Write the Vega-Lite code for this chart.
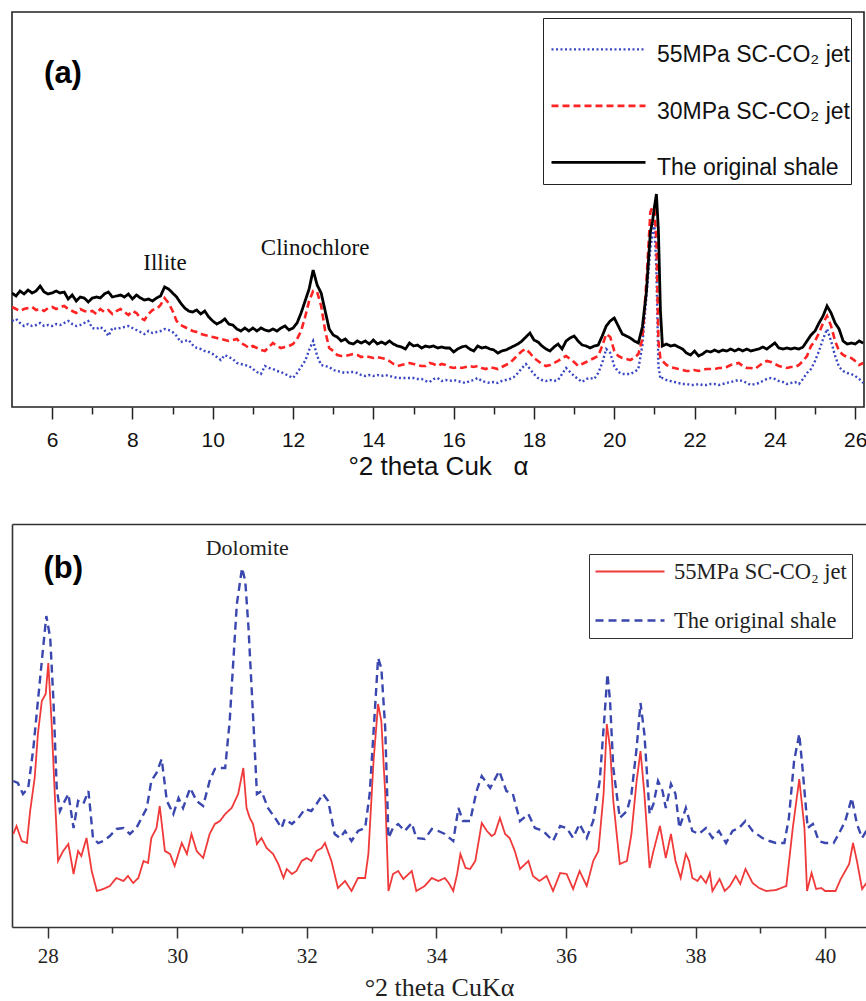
{
"$schema": "https://vega.github.io/schema/vega-lite/v6.json",
"padding": {"left": 11, "top": 11, "right": 0, "bottom": 0},
"background": "white",
"spacing": 44,
"config": {"axis": {"grid": false}, "font": "Liberation Sans"},
"resolve": {"scale": {"color": "independent", "strokeDash": "independent", "strokeWidth": "independent"}, "legend": {"color": "independent", "strokeDash": "independent", "strokeWidth": "independent"}},
"vconcat": [
{
"width": 852, "height": 395,
"view": {"stroke": "#222", "strokeWidth": 1.6},
"layer": [
{
"data": {"values": [
{"x":5.0,"a":86,"b":100,"c":114},{"x":5.1,"a":88,"b":98,"c":111},{"x":5.2,"a":84,"b":96,"c":116},{"x":5.3,"a":81,"b":98,"c":113},{"x":5.4,"a":83,"b":99,"c":117},{"x":5.5,"a":81,"b":100,"c":114},{"x":5.6,"a":82,"b":97,"c":116},{"x":5.7,"a":84,"b":98,"c":121},{"x":5.8,"a":81,"b":96,"c":115},{"x":5.9,"a":82,"b":99,"c":113},
{"x":6.0,"a":81,"b":100,"c":114},{"x":6.1,"a":83,"b":98,"c":116},{"x":6.2,"a":82,"b":100,"c":114},{"x":6.3,"a":84,"b":101,"c":115},{"x":6.4,"a":86,"b":98,"c":108},{"x":6.5,"a":83,"b":96,"c":112},{"x":6.6,"a":81,"b":94,"c":106},{"x":6.7,"a":82,"b":98,"c":110},{"x":6.8,"a":84,"b":96,"c":109},{"x":6.9,"a":86,"b":95,"c":105},
{"x":7.0,"a":79,"b":96,"c":109},{"x":7.1,"a":78,"b":93,"c":110},{"x":7.2,"a":80,"b":98,"c":109},{"x":7.3,"a":77,"b":95,"c":113},{"x":7.4,"a":71,"b":97,"c":115},{"x":7.5,"a":79,"b":93,"c":110},{"x":7.6,"a":78,"b":96,"c":111},{"x":7.7,"a":79,"b":98,"c":112},{"x":7.8,"a":80,"b":95,"c":110},{"x":7.9,"a":81,"b":92,"c":113},
{"x":8.0,"a":79,"b":96,"c":108},{"x":8.1,"a":77,"b":94,"c":112},{"x":8.2,"a":75,"b":89,"c":109},{"x":8.3,"a":73,"b":87,"c":107},{"x":8.4,"a":76,"b":93,"c":108},{"x":8.5,"a":74,"b":97,"c":106},{"x":8.6,"a":75,"b":98,"c":109},{"x":8.7,"a":76,"b":102,"c":111},{"x":8.8,"a":78,"b":109,"c":120},{"x":8.9,"a":77,"b":104,"c":118},
{"x":9.0,"a":75,"b":96,"c":114},{"x":9.1,"a":71,"b":86,"c":110},{"x":9.2,"a":65,"b":82,"c":104},{"x":9.3,"a":66,"b":80,"c":99},{"x":9.4,"a":67,"b":78,"c":96},{"x":9.5,"a":62,"b":76,"c":95},{"x":9.6,"a":59,"b":75,"c":97},{"x":9.7,"a":58,"b":73,"c":93},{"x":9.8,"a":56,"b":72,"c":96},{"x":9.9,"a":55,"b":71,"c":90},
{"x":10.0,"a":53,"b":70,"c":86},{"x":10.1,"a":50,"b":69,"c":83},{"x":10.2,"a":47,"b":68,"c":85},{"x":10.3,"a":52,"b":67,"c":88},{"x":10.4,"a":50,"b":66,"c":83},{"x":10.5,"a":48,"b":67,"c":82},{"x":10.6,"a":44,"b":68,"c":78},{"x":10.7,"a":43,"b":64,"c":76},{"x":10.8,"a":42,"b":62,"c":79},{"x":10.9,"a":41,"b":59,"c":76},
{"x":11.0,"a":38,"b":61,"c":79},{"x":11.1,"a":35,"b":59,"c":76},{"x":11.2,"a":33,"b":57,"c":79},{"x":11.3,"a":41,"b":56,"c":77},{"x":11.4,"a":39,"b":60,"c":76},{"x":11.5,"a":38,"b":64,"c":78},{"x":11.6,"a":36,"b":61,"c":76},{"x":11.7,"a":35,"b":59,"c":79},{"x":11.8,"a":33,"b":60,"c":81},{"x":11.9,"a":31,"b":61,"c":77},
{"x":12.0,"a":29,"b":63,"c":79},{"x":12.1,"a":34,"b":68,"c":84},{"x":12.2,"a":40,"b":76,"c":94},{"x":12.3,"a":46,"b":90,"c":106},{"x":12.4,"a":57,"b":106,"c":118},{"x":12.5,"a":66,"b":116,"c":137},{"x":12.6,"a":51,"b":115,"c":122},{"x":12.7,"a":42,"b":101,"c":114},{"x":12.8,"a":41,"b":76,"c":96},{"x":12.9,"a":40,"b":59,"c":78},
{"x":13.0,"a":37,"b":56,"c":72},{"x":13.1,"a":36,"b":52,"c":70},{"x":13.2,"a":35,"b":51,"c":66},{"x":13.3,"a":34,"b":51,"c":68},{"x":13.4,"a":35,"b":52,"c":64},{"x":13.5,"a":35,"b":53,"c":63},{"x":13.6,"a":34,"b":52,"c":66},{"x":13.7,"a":32,"b":50,"c":64},{"x":13.8,"a":31,"b":51,"c":66},{"x":13.9,"a":32,"b":50,"c":63},
{"x":14.0,"a":31,"b":49,"c":67},{"x":14.1,"a":32,"b":50,"c":63},{"x":14.2,"a":31,"b":49,"c":65},{"x":14.3,"a":32,"b":48,"c":63},{"x":14.4,"a":31,"b":46,"c":66},{"x":14.5,"a":30,"b":43,"c":63},{"x":14.6,"a":29,"b":41,"c":61},{"x":14.7,"a":29,"b":42,"c":60},{"x":14.8,"a":29,"b":43,"c":58},{"x":14.9,"a":29,"b":44,"c":64},
{"x":15.0,"a":29,"b":43,"c":61},{"x":15.1,"a":28,"b":42,"c":62},{"x":15.2,"a":28,"b":41,"c":59},{"x":15.3,"a":26,"b":41,"c":61},{"x":15.4,"a":25,"b":44,"c":60},{"x":15.5,"a":28,"b":43,"c":61},{"x":15.6,"a":29,"b":41,"c":59},{"x":15.7,"a":26,"b":43,"c":60},{"x":15.8,"a":27,"b":42,"c":59},{"x":15.9,"a":26,"b":40,"c":59},
{"x":16.0,"a":27,"b":39,"c":55},{"x":16.1,"a":26,"b":40,"c":58},{"x":16.2,"a":25,"b":39,"c":60},{"x":16.3,"a":24,"b":40,"c":61},{"x":16.4,"a":26,"b":41,"c":58},{"x":16.5,"a":27,"b":40,"c":56},{"x":16.6,"a":29,"b":41,"c":61},{"x":16.7,"a":26,"b":39,"c":59},{"x":16.8,"a":25,"b":38,"c":60},{"x":16.9,"a":24,"b":40,"c":58},
{"x":17.0,"a":25,"b":39,"c":57},{"x":17.1,"a":24,"b":38,"c":54},{"x":17.2,"a":26,"b":40,"c":56},{"x":17.3,"a":27,"b":42,"c":57},{"x":17.4,"a":28,"b":44,"c":59},{"x":17.5,"a":30,"b":48,"c":61},{"x":17.6,"a":34,"b":52,"c":63},{"x":17.7,"a":39,"b":56,"c":66},{"x":17.8,"a":43,"b":58,"c":70},{"x":17.9,"a":38,"b":54,"c":74},
{"x":18.0,"a":33,"b":49,"c":67},{"x":18.1,"a":29,"b":46,"c":65},{"x":18.2,"a":27,"b":43,"c":61},{"x":18.3,"a":26,"b":41,"c":58},{"x":18.4,"a":27,"b":42,"c":56},{"x":18.5,"a":26,"b":44,"c":60},{"x":18.6,"a":27,"b":46,"c":63},{"x":18.7,"a":33,"b":49,"c":58},{"x":18.8,"a":39,"b":51,"c":66},{"x":18.9,"a":35,"b":48,"c":69},
{"x":19.0,"a":31,"b":45,"c":71},{"x":19.1,"a":28,"b":41,"c":66},{"x":19.2,"a":25,"b":43,"c":62},{"x":19.3,"a":28,"b":45,"c":61},{"x":19.4,"a":29,"b":47,"c":59},{"x":19.5,"a":28,"b":49,"c":61},{"x":19.6,"a":34,"b":51,"c":62},{"x":19.7,"a":44,"b":61,"c":71},{"x":19.8,"a":58,"b":73,"c":81},{"x":19.9,"a":54,"b":70,"c":86},
{"x":20.0,"a":41,"b":56,"c":89},{"x":20.1,"a":35,"b":51,"c":81},{"x":20.2,"a":33,"b":49,"c":73},{"x":20.3,"a":33,"b":48,"c":71},{"x":20.4,"a":33,"b":47,"c":69},{"x":20.5,"a":35,"b":49,"c":66},{"x":20.6,"a":38,"b":53,"c":64},{"x":20.7,"a":62,"b":68,"c":80},{"x":20.8,"a":110,"b":125,"c":115},{"x":20.9,"a":159,"b":195,"c":175},
{"x":20.95,"a":172,"b":200,"c":185},{"x":21.0,"a":183,"b":198,"c":200},{"x":21.05,"a":136,"b":166,"c":213},{"x":21.1,"a":41,"b":66,"c":176},{"x":21.15,"a":28,"b":48,"c":96},{"x":21.2,"a":29,"b":46,"c":61},{"x":21.3,"a":27,"b":42,"c":63},{"x":21.4,"a":26,"b":40,"c":61},{"x":21.5,"a":25,"b":39,"c":62},{"x":21.6,"a":24,"b":38,"c":60},
{"x":21.7,"a":23,"b":37,"c":58},{"x":21.8,"a":23,"b":36,"c":54},{"x":21.9,"a":22,"b":36,"c":52},{"x":22.0,"a":22,"b":37,"c":56},{"x":22.1,"a":23,"b":36,"c":51},{"x":22.2,"a":22,"b":37,"c":53},{"x":22.3,"a":22,"b":38,"c":56},{"x":22.4,"a":23,"b":38,"c":55},{"x":22.5,"a":23,"b":38,"c":57},{"x":22.6,"a":22,"b":39,"c":55},
{"x":22.7,"a":23,"b":39,"c":57},{"x":22.8,"a":24,"b":40,"c":56},{"x":22.9,"a":25,"b":42,"c":58},{"x":23.0,"a":26,"b":43,"c":56},{"x":23.1,"a":27,"b":44,"c":58},{"x":23.2,"a":26,"b":41,"c":56},{"x":23.3,"a":24,"b":39,"c":58},{"x":23.4,"a":22,"b":39,"c":56},{"x":23.5,"a":23,"b":38,"c":57},{"x":23.6,"a":24,"b":41,"c":58},
{"x":23.7,"a":26,"b":44,"c":60},{"x":23.8,"a":28,"b":46,"c":58},{"x":23.9,"a":29,"b":45,"c":61},{"x":24.0,"a":28,"b":43,"c":64},{"x":24.1,"a":26,"b":41,"c":59},{"x":24.2,"a":25,"b":40,"c":58},{"x":24.3,"a":23,"b":39,"c":59},{"x":24.4,"a":24,"b":40,"c":58},{"x":24.5,"a":25,"b":40,"c":59},{"x":24.6,"a":23,"b":42,"c":58},
{"x":24.7,"a":28,"b":46,"c":60},{"x":24.8,"a":34,"b":51,"c":66},{"x":24.9,"a":38,"b":61,"c":72},{"x":25.0,"a":46,"b":66,"c":76},{"x":25.1,"a":56,"b":74,"c":84},{"x":25.2,"a":68,"b":84,"c":91},{"x":25.3,"a":78,"b":91,"c":101},{"x":25.4,"a":66,"b":81,"c":94},{"x":25.5,"a":51,"b":66,"c":84},{"x":25.6,"a":40,"b":56,"c":78},
{"x":25.7,"a":36,"b":52,"c":66},{"x":25.8,"a":34,"b":50,"c":63},{"x":25.9,"a":33,"b":49,"c":64},{"x":26.0,"a":31,"b":46,"c":63},{"x":26.1,"a":28,"b":42,"c":66},{"x":26.2,"a":24,"b":44,"c":64}
]},
"transform": [{"fold": ["a", "b", "c"], "as": ["s", "v"]}],
"mark": {"type": "line", "clip": true},
"encoding": {
"x": {"field": "x", "type": "quantitative", "scale": {"domain": [5, 26.22], "nice": false, "zero": false},
"axis": {"values": [6,7,8,9,10,11,12,13,14,15,16,17,18,19,20,21,22,23,24,25,26], "labelExpr": "datum.value % 2 === 0 ? datum.label : ''", "tickSize": {"condition": {"test": "datum.value % 2 !== 0", "value": 7}, "value": 12}, "domain": false, "tickColor": "#222", "tickWidth": 1.5, "labelFont": "Liberation Sans", "labelFontSize": 21, "labelColor": "#111", "labelPadding": 10, "labelFlush": false, "labelOverlap": false, "title": "°2 theta Cuk\u00a0\u00a0\u00a0α", "titleFont": "Liberation Sans", "titleFontSize": 26, "titleFontWeight": "normal", "titleColor": "#111", "titlePadding": 3}},
"y": {"field": "v", "type": "quantitative", "scale": {"domain": [0, 395], "nice": false, "zero": false}, "axis": null},
"color": {"field": "s", "type": "nominal", "scale": {"domain": ["a", "b", "c"], "range": ["#3a47c2", "#ff2323", "#000000"]},
"legend": {"orient": "none", "legendX": 531, "legendY": 6, "title": " ", "titleFontSize": 1, "titlePadding": 20, "strokeColor": "#222", "padding": 1, "symbolOffset": 6, "symbolType": "M-1,-0.12L1,-0.12", "symbolSize": 8836, "symbolStrokeWidth": 2, "clipHeight": 30, "rowPadding": 26.5, "labelFont": "Liberation Sans", "labelFontSize": 23, "labelColor": "#111", "labelOffset": 10, "labelLimit": 400, "labelBaseline": "middle",
"labelExpr": "datum.value === 'a' ? '55MPa SC-CO₂ jet\u00a0' : datum.value === 'b' ? '30MPa SC-CO₂ jet\u00a0' : 'The original shale'"}},
"strokeDash": {"field": "s", "type": "nominal", "scale": {"domain": ["a", "b", "c"], "range": [[2, 2.5], [7, 4], [1, 0]]},
"legend": {"orient": "none", "legendX": 531, "legendY": 6, "title": " ", "titleFontSize": 1, "titlePadding": 20, "strokeColor": "#222", "padding": 1, "symbolOffset": 6, "symbolType": "M-1,-0.12L1,-0.12", "symbolSize": 8836, "symbolStrokeWidth": 2, "clipHeight": 30, "rowPadding": 26.5, "labelFont": "Liberation Sans", "labelFontSize": 23, "labelColor": "#111", "labelOffset": 10, "labelLimit": 400, "labelBaseline": "middle",
"labelExpr": "datum.value === 'a' ? '55MPa SC-CO₂ jet\u00a0' : datum.value === 'b' ? '30MPa SC-CO₂ jet\u00a0' : 'The original shale'"}},
"strokeWidth": {"field": "s", "type": "nominal", "scale": {"domain": ["a", "b", "c"], "range": [2.4, 2.8, 1.6]}, "legend": null}
}
},
{
"data": {"values": [{"x": 8.81, "y": 144, "t": "Illite"}, {"x": 12.55, "y": 159, "t": "Clinochlore"}]},
"mark": {"type": "text", "font": "Liberation Serif", "fontSize": 23, "color": "#111", "baseline": "middle", "align": "center"},
"encoding": {
"x": {"field": "x", "type": "quantitative", "scale": {"domain": [5, 26.22], "nice": false, "zero": false},
"axis": {"values": [6,7,8,9,10,11,12,13,14,15,16,17,18,19,20,21,22,23,24,25,26], "labelExpr": "datum.value % 2 === 0 ? datum.label : ''", "tickSize": {"condition": {"test": "datum.value % 2 !== 0", "value": 7}, "value": 12}, "domain": false, "tickColor": "#222", "tickWidth": 1.5, "labelFont": "Liberation Sans", "labelFontSize": 21, "labelColor": "#111", "labelPadding": 10, "labelFlush": false, "labelOverlap": false, "title": "°2 theta Cuk\u00a0\u00a0\u00a0α", "titleFont": "Liberation Sans", "titleFontSize": 26, "titleFontWeight": "normal", "titleColor": "#111", "titlePadding": 3}},
"y": {"field": "y", "type": "quantitative", "scale": {"domain": [0, 395], "nice": false, "zero": false}, "axis": null},
"text": {"field": "t"}
}
},
{
"data": {"values": [{"x": 6.27, "y": 333, "t": "(a)"}]},
"mark": {"type": "text", "font": "Liberation Sans", "fontWeight": "bold", "fontSize": 31, "color": "#000", "baseline": "middle", "align": "center"},
"encoding": {
"x": {"field": "x", "type": "quantitative", "scale": {"domain": [5, 26.22], "nice": false, "zero": false},
"axis": {"values": [6,7,8,9,10,11,12,13,14,15,16,17,18,19,20,21,22,23,24,25,26], "labelExpr": "datum.value % 2 === 0 ? datum.label : ''", "tickSize": {"condition": {"test": "datum.value % 2 !== 0", "value": 7}, "value": 12}, "domain": false, "tickColor": "#222", "tickWidth": 1.5, "labelFont": "Liberation Sans", "labelFontSize": 21, "labelColor": "#111", "labelPadding": 10, "labelFlush": false, "labelOverlap": false, "title": "°2 theta Cuk\u00a0\u00a0\u00a0α", "titleFont": "Liberation Sans", "titleFontSize": 26, "titleFontWeight": "normal", "titleColor": "#111", "titlePadding": 3}},
"y": {"field": "y", "type": "quantitative", "scale": {"domain": [0, 395], "nice": false, "zero": false}, "axis": null},
"text": {"field": "t"}
}
}
]
},
{
"width": 854, "height": 403,
"view": {"stroke": null},
"resolve": {"axis": {"x": "independent"}},
"layer": [
{
"data": {"values": [
{"s":"a","x":27.47,"v":93},{"s":"a","x":27.52,"v":101},{"s":"a","x":27.60,"v":86},{"s":"a","x":27.68,"v":84},{"s":"a","x":27.73,"v":116},{"s":"a","x":27.80,"v":149},{"s":"a","x":27.85,"v":193},{"s":"a","x":27.91,"v":226},{"s":"a","x":27.97,"v":233},{"s":"a","x":28.01,"v":264},
{"s":"a","x":28.06,"v":206},{"s":"a","x":28.11,"v":133},{"s":"a","x":28.16,"v":66},{"s":"a","x":28.24,"v":76},{"s":"a","x":28.32,"v":83},{"s":"a","x":28.40,"v":53},{"s":"a","x":28.47,"v":76},{"s":"a","x":28.52,"v":71},{"s":"a","x":28.60,"v":89},{"s":"a","x":28.68,"v":56},
{"s":"a","x":28.76,"v":36},{"s":"a","x":28.86,"v":38},{"s":"a","x":28.96,"v":41},{"s":"a","x":29.06,"v":49},{"s":"a","x":29.17,"v":46},{"s":"a","x":29.24,"v":51},{"s":"a","x":29.32,"v":44},{"s":"a","x":29.40,"v":49},{"s":"a","x":29.48,"v":66},{"s":"a","x":29.55,"v":64},
{"s":"a","x":29.60,"v":89},{"s":"a","x":29.68,"v":99},{"s":"a","x":29.73,"v":121},{"s":"a","x":29.81,"v":76},{"s":"a","x":29.89,"v":73},{"s":"a","x":29.96,"v":61},{"s":"a","x":30.07,"v":84},{"s":"a","x":30.15,"v":73},{"s":"a","x":30.22,"v":93},{"s":"a","x":30.30,"v":76},
{"s":"a","x":30.40,"v":69},{"s":"a","x":30.50,"v":93},{"s":"a","x":30.58,"v":103},{"s":"a","x":30.66,"v":106},{"s":"a","x":30.74,"v":113},{"s":"a","x":30.84,"v":119},{"s":"a","x":30.94,"v":133},{"s":"a","x":31.02,"v":159},{"s":"a","x":31.07,"v":119},{"s":"a","x":31.12,"v":109},
{"s":"a","x":31.17,"v":103},{"s":"a","x":31.23,"v":83},{"s":"a","x":31.30,"v":89},{"s":"a","x":31.38,"v":79},{"s":"a","x":31.48,"v":73},{"s":"a","x":31.56,"v":63},{"s":"a","x":31.64,"v":49},{"s":"a","x":31.69,"v":58},{"s":"a","x":31.77,"v":53},{"s":"a","x":31.84,"v":56},
{"s":"a","x":31.92,"v":66},{"s":"a","x":32.00,"v":69},{"s":"a","x":32.07,"v":66},{"s":"a","x":32.15,"v":76},{"s":"a","x":32.23,"v":79},{"s":"a","x":32.28,"v":84},{"s":"a","x":32.38,"v":66},{"s":"a","x":32.48,"v":39},{"s":"a","x":32.59,"v":46},{"s":"a","x":32.69,"v":36},
{"s":"a","x":32.79,"v":49},{"s":"a","x":32.90,"v":49},{"s":"a","x":32.95,"v":73},{"s":"a","x":33.03,"v":166},{"s":"a","x":33.10,"v":223},{"s":"a","x":33.15,"v":206},{"s":"a","x":33.21,"v":133},{"s":"a","x":33.26,"v":36},{"s":"a","x":33.33,"v":53},{"s":"a","x":33.41,"v":56},
{"s":"a","x":33.49,"v":48},{"s":"a","x":33.62,"v":56},{"s":"a","x":33.69,"v":36},{"s":"a","x":33.82,"v":41},{"s":"a","x":33.93,"v":49},{"s":"a","x":34.03,"v":46},{"s":"a","x":34.13,"v":49},{"s":"a","x":34.19,"v":44},{"s":"a","x":34.26,"v":36},{"s":"a","x":34.32,"v":53},
{"s":"a","x":34.37,"v":73},{"s":"a","x":34.45,"v":59},{"s":"a","x":34.52,"v":58},{"s":"a","x":34.60,"v":66},{"s":"a","x":34.70,"v":104},{"s":"a","x":34.78,"v":96},{"s":"a","x":34.85,"v":91},{"s":"a","x":34.90,"v":93},{"s":"a","x":34.98,"v":109},{"s":"a","x":35.06,"v":93},
{"s":"a","x":35.13,"v":89},{"s":"a","x":35.21,"v":76},{"s":"a","x":35.29,"v":58},{"s":"a","x":35.42,"v":66},{"s":"a","x":35.49,"v":51},{"s":"a","x":35.59,"v":46},{"s":"a","x":35.70,"v":51},{"s":"a","x":35.80,"v":36},{"s":"a","x":35.91,"v":54},{"s":"a","x":36.01,"v":53},
{"s":"a","x":36.11,"v":38},{"s":"a","x":36.21,"v":56},{"s":"a","x":36.32,"v":41},{"s":"a","x":36.42,"v":66},{"s":"a","x":36.50,"v":76},{"s":"a","x":36.58,"v":133},{"s":"a","x":36.63,"v":203},{"s":"a","x":36.68,"v":179},{"s":"a","x":36.73,"v":126},{"s":"a","x":36.83,"v":63},
{"s":"a","x":36.94,"v":66},{"s":"a","x":37.01,"v":93},{"s":"a","x":37.09,"v":146},{"s":"a","x":37.15,"v":176},{"s":"a","x":37.21,"v":133},{"s":"a","x":37.29,"v":59},{"s":"a","x":37.35,"v":76},{"s":"a","x":37.45,"v":101},{"s":"a","x":37.54,"v":69},{"s":"a","x":37.62,"v":93},
{"s":"a","x":37.69,"v":66},{"s":"a","x":37.77,"v":49},{"s":"a","x":37.85,"v":73},{"s":"a","x":37.90,"v":66},{"s":"a","x":37.95,"v":49},{"s":"a","x":38.03,"v":46},{"s":"a","x":38.08,"v":51},{"s":"a","x":38.16,"v":44},{"s":"a","x":38.22,"v":54},{"s":"a","x":38.26,"v":36},
{"s":"a","x":38.37,"v":48},{"s":"a","x":38.45,"v":36},{"s":"a","x":38.53,"v":41},{"s":"a","x":38.62,"v":51},{"s":"a","x":38.69,"v":43},{"s":"a","x":38.77,"v":58},{"s":"a","x":38.88,"v":44},{"s":"a","x":38.98,"v":39},{"s":"a","x":39.09,"v":36},{"s":"a","x":39.24,"v":37},
{"s":"a","x":39.40,"v":41},{"s":"a","x":39.50,"v":99},{"s":"a","x":39.60,"v":148},{"s":"a","x":39.68,"v":99},{"s":"a","x":39.72,"v":36},{"s":"a","x":39.79,"v":54},{"s":"a","x":39.86,"v":38},{"s":"a","x":39.94,"v":39},{"s":"a","x":40.00,"v":36},{"s":"a","x":40.16,"v":36},
{"s":"a","x":40.24,"v":48},{"s":"a","x":40.31,"v":56},{"s":"a","x":40.37,"v":63},{"s":"a","x":40.43,"v":84},{"s":"a","x":40.49,"v":66},{"s":"a","x":40.57,"v":38},{"s":"a","x":40.66,"v":46},
{"s":"b","x":27.47,"v":146},{"s":"b","x":27.54,"v":144},{"s":"b","x":27.62,"v":133},{"s":"b","x":27.70,"v":139},{"s":"b","x":27.78,"v":179},{"s":"b","x":27.85,"v":226},{"s":"b","x":27.93,"v":279},{"s":"b","x":27.98,"v":311},{"s":"b","x":28.04,"v":289},{"s":"b","x":28.09,"v":226},
{"s":"b","x":28.14,"v":139},{"s":"b","x":28.19,"v":116},{"s":"b","x":28.24,"v":123},{"s":"b","x":28.32,"v":133},{"s":"b","x":28.40,"v":99},{"s":"b","x":28.47,"v":126},{"s":"b","x":28.55,"v":123},{"s":"b","x":28.63,"v":136},{"s":"b","x":28.70,"v":89},{"s":"b","x":28.78,"v":84},
{"s":"b","x":28.86,"v":86},{"s":"b","x":28.96,"v":91},{"s":"b","x":29.06,"v":98},{"s":"b","x":29.17,"v":99},{"s":"b","x":29.27,"v":93},{"s":"b","x":29.37,"v":99},{"s":"b","x":29.45,"v":109},{"s":"b","x":29.53,"v":119},{"s":"b","x":29.60,"v":146},{"s":"b","x":29.68,"v":154},
{"s":"b","x":29.76,"v":168},{"s":"b","x":29.84,"v":126},{"s":"b","x":29.94,"v":113},{"s":"b","x":30.02,"v":129},{"s":"b","x":30.09,"v":119},{"s":"b","x":30.20,"v":139},{"s":"b","x":30.30,"v":126},{"s":"b","x":30.40,"v":121},{"s":"b","x":30.50,"v":146},{"s":"b","x":30.58,"v":158},
{"s":"b","x":30.66,"v":159},{"s":"b","x":30.74,"v":159},{"s":"b","x":30.81,"v":206},{"s":"b","x":30.84,"v":239},{"s":"b","x":30.92,"v":323},{"s":"b","x":31.00,"v":359},{"s":"b","x":31.05,"v":346},{"s":"b","x":31.10,"v":299},{"s":"b","x":31.18,"v":199},{"s":"b","x":31.23,"v":133},
{"s":"b","x":31.30,"v":136},{"s":"b","x":31.40,"v":119},{"s":"b","x":31.51,"v":109},{"s":"b","x":31.61,"v":99},{"s":"b","x":31.66,"v":108},{"s":"b","x":31.77,"v":103},{"s":"b","x":31.87,"v":109},{"s":"b","x":31.97,"v":118},{"s":"b","x":32.07,"v":116},{"s":"b","x":32.15,"v":123},
{"s":"b","x":32.25,"v":133},{"s":"b","x":32.33,"v":126},{"s":"b","x":32.43,"v":93},{"s":"b","x":32.51,"v":89},{"s":"b","x":32.59,"v":96},{"s":"b","x":32.69,"v":86},{"s":"b","x":32.79,"v":96},{"s":"b","x":32.90,"v":99},{"s":"b","x":32.97,"v":133},{"s":"b","x":33.05,"v":216},
{"s":"b","x":33.10,"v":269},{"s":"b","x":33.15,"v":259},{"s":"b","x":33.21,"v":199},{"s":"b","x":33.26,"v":89},{"s":"b","x":33.33,"v":99},{"s":"b","x":33.41,"v":103},{"s":"b","x":33.51,"v":96},{"s":"b","x":33.62,"v":104},{"s":"b","x":33.69,"v":89},{"s":"b","x":33.82,"v":88},
{"s":"b","x":33.93,"v":98},{"s":"b","x":34.03,"v":96},{"s":"b","x":34.13,"v":93},{"s":"b","x":34.26,"v":86},{"s":"b","x":34.34,"v":119},{"s":"b","x":34.41,"v":106},{"s":"b","x":34.52,"v":106},{"s":"b","x":34.62,"v":136},{"s":"b","x":34.70,"v":151},{"s":"b","x":34.83,"v":139},
{"s":"b","x":34.97,"v":156},{"s":"b","x":35.08,"v":136},{"s":"b","x":35.18,"v":133},{"s":"b","x":35.29,"v":106},{"s":"b","x":35.42,"v":113},{"s":"b","x":35.52,"v":99},{"s":"b","x":35.65,"v":96},{"s":"b","x":35.80,"v":86},{"s":"b","x":35.91,"v":101},{"s":"b","x":36.01,"v":99},
{"s":"b","x":36.11,"v":89},{"s":"b","x":36.21,"v":103},{"s":"b","x":36.32,"v":89},{"s":"b","x":36.42,"v":106},{"s":"b","x":36.52,"v":146},{"s":"b","x":36.60,"v":216},{"s":"b","x":36.64,"v":253},{"s":"b","x":36.68,"v":226},{"s":"b","x":36.73,"v":159},{"s":"b","x":36.83,"v":109},
{"s":"b","x":36.94,"v":116},{"s":"b","x":37.01,"v":133},{"s":"b","x":37.09,"v":179},{"s":"b","x":37.15,"v":224},{"s":"b","x":37.21,"v":193},{"s":"b","x":37.29,"v":113},{"s":"b","x":37.35,"v":123},{"s":"b","x":37.42,"v":146},{"s":"b","x":37.49,"v":136},{"s":"b","x":37.54,"v":119},
{"s":"b","x":37.62,"v":143},{"s":"b","x":37.69,"v":133},{"s":"b","x":37.75,"v":99},{"s":"b","x":37.85,"v":119},{"s":"b","x":37.95,"v":96},{"s":"b","x":38.05,"v":93},{"s":"b","x":38.16,"v":99},{"s":"b","x":38.26,"v":89},{"s":"b","x":38.36,"v":96},{"s":"b","x":38.47,"v":84},
{"s":"b","x":38.57,"v":96},{"s":"b","x":38.67,"v":99},{"s":"b","x":38.77,"v":106},{"s":"b","x":38.88,"v":96},{"s":"b","x":39.03,"v":89},{"s":"b","x":39.14,"v":86},{"s":"b","x":39.24,"v":84},{"s":"b","x":39.37,"v":84},{"s":"b","x":39.44,"v":109},{"s":"b","x":39.52,"v":166},
{"s":"b","x":39.60,"v":193},{"s":"b","x":39.65,"v":159},{"s":"b","x":39.73,"v":99},{"s":"b","x":39.81,"v":103},{"s":"b","x":39.90,"v":86},{"s":"b","x":40.00,"v":84},{"s":"b","x":40.13,"v":84},{"s":"b","x":40.21,"v":93},{"s":"b","x":40.31,"v":106},{"s":"b","x":40.41,"v":129},
{"s":"b","x":40.49,"v":103},{"s":"b","x":40.57,"v":89},{"s":"b","x":40.66,"v":99}
]},
"mark": {"type": "line", "clip": true},
"encoding": {
"x": {"field": "x", "type": "quantitative", "scale": {"domain": [27.45, 40.63], "nice": false, "zero": false},
"axis": {"values": [28,29,30,31,32,33,34,35,36,37,38,39,40], "labelExpr": "datum.value % 2 === 0 ? datum.label : ''", "tickSize": {"condition": {"test": "datum.value % 2 !== 0", "value": 6}, "value": 11}, "domain": true, "domainColor": "#333", "domainWidth": 1.6, "tickColor": "#333", "tickWidth": 1.5, "labelFont": "Liberation Serif", "labelFontSize": 21, "labelColor": "#222", "labelPadding": 7, "labelFlush": false, "labelOverlap": false, "title": "°2 theta CuKα", "titleFont": "Liberation Serif", "titleFontSize": 26, "titleFontWeight": "normal", "titleColor": "#222", "titlePadding": 8}},
"y": {"field": "v", "type": "quantitative", "scale": {"domain": [0, 403], "nice": false, "zero": false},
"axis": {"orient": "left", "labels": false, "ticks": false, "title": null, "domain": true, "domainColor": "#333", "domainWidth": 1.6}},
"color": {"field": "s", "type": "nominal", "scale": {"domain": ["a", "b"], "range": ["#f03a3a", "#3a47ae"]},
"legend": {"orient": "none", "legendX": 577, "legendY": 30, "title": null, "strokeColor": "#333", "padding": 5, "symbolType": "stroke", "symbolSize": 4761, "symbolStrokeWidth": 2, "clipHeight": 25, "rowPadding": 24, "labelFont": "Liberation Serif", "labelFontSize": 22.5, "labelColor": "#222", "labelOffset": 8, "labelLimit": 400, "labelBaseline": "middle",
"labelExpr": "datum.value === 'a' ? '55MPa SC-CO₂ jet' : 'The original shale'"}},
"strokeDash": {"field": "s", "type": "nominal", "scale": {"domain": ["a", "b"], "range": [[1, 0], [8, 5]]},
"legend": {"orient": "none", "legendX": 577, "legendY": 30, "title": null, "strokeColor": "#333", "padding": 5, "symbolType": "stroke", "symbolSize": 4761, "symbolStrokeWidth": 2, "clipHeight": 25, "rowPadding": 24, "labelFont": "Liberation Serif", "labelFontSize": 22.5, "labelColor": "#222", "labelOffset": 8, "labelLimit": 400, "labelBaseline": "middle",
"labelExpr": "datum.value === 'a' ? '55MPa SC-CO₂ jet' : 'The original shale'"}},
"strokeWidth": {"field": "s", "type": "nominal", "scale": {"domain": ["a", "b"], "range": [1.8, 2.4]}, "legend": null}
}
},
{
"data": {"values": [{"x": 31.08, "y": 379, "t": "Dolomite"}]},
"mark": {"type": "text", "font": "Liberation Serif", "fontSize": 22, "color": "#222", "baseline": "middle", "align": "center"},
"encoding": {
"x": {"field": "x", "type": "quantitative", "scale": {"domain": [27.45, 40.63], "nice": false, "zero": false},
"axis": {"orient": "top", "labels": false, "ticks": false, "title": null, "domain": true, "domainColor": "#333", "domainWidth": 1.6}},
"y": {"field": "y", "type": "quantitative", "scale": {"domain": [0, 403], "nice": false, "zero": false},
"axis": {"orient": "left", "labels": false, "ticks": false, "title": null, "domain": true, "domainColor": "#333", "domainWidth": 1.6}},
"text": {"field": "t"}
}
},
{
"data": {"values": [{"x": 28.24, "y": 358, "t": "(b)"}]},
"mark": {"type": "text", "font": "Liberation Sans", "fontWeight": "bold", "fontSize": 31, "color": "#000", "baseline": "middle", "align": "center"},
"encoding": {
"x": {"field": "x", "type": "quantitative", "scale": {"domain": [27.45, 40.63], "nice": false, "zero": false}, "axis": null},
"y": {"field": "y", "type": "quantitative", "scale": {"domain": [0, 403], "nice": false, "zero": false},
"axis": {"orient": "left", "labels": false, "ticks": false, "title": null, "domain": true, "domainColor": "#333", "domainWidth": 1.6}},
"text": {"field": "t"}
}
}
]
}
]
}
